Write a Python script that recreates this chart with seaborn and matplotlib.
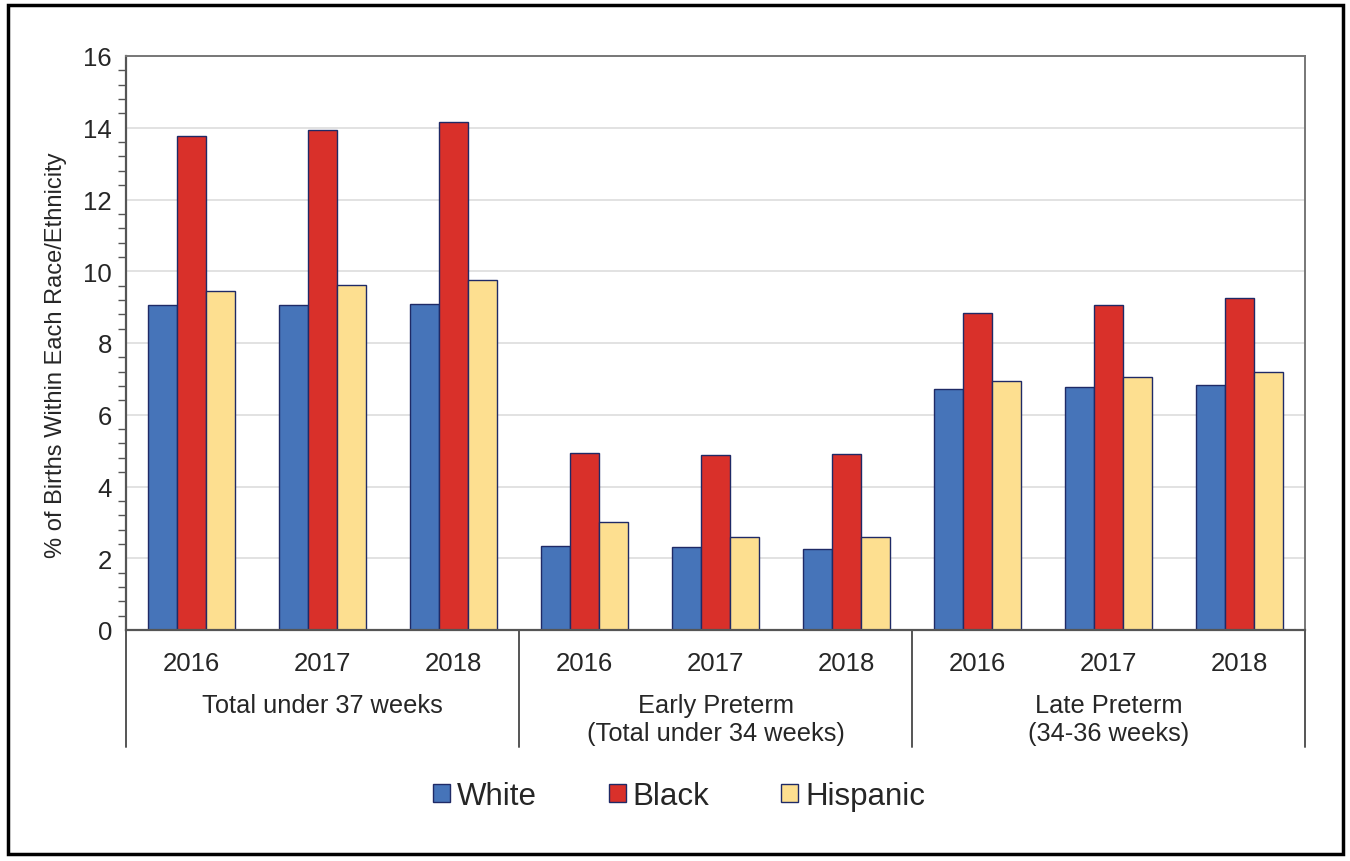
import pandas as pd
import matplotlib
matplotlib.use("Agg")
import matplotlib.pyplot as plt
import matplotlib.patches as mpatches
from matplotlib.ticker import MultipleLocator
import seaborn as sns

# data
groups = ["Total under 37 weeks",
          "Early Preterm\n(Total under 34 weeks)",
          "Late Preterm\n(34-36 weeks)"]
years = ["2016", "2017", "2018"]
races = ["White", "Black", "Hispanic"]

white = [9.05, 9.05, 9.10, 2.35, 2.30, 2.27, 6.72, 6.77, 6.83]
black = [13.78, 13.93, 14.15, 4.93, 4.88, 4.90, 8.85, 9.07, 9.25]
hispanic = [9.45, 9.63, 9.75, 3.00, 2.58, 2.58, 6.93, 7.05, 7.18]

colors = ["#4674B9", "#D9302A", "#FDDF90"]
edge = "#1F2A66"

slots = [g.split("\n")[0] + " " + y for g in groups for y in years]
rows = []
for i, s in enumerate(slots):
    rows.append([s, "White", white[i]])
    rows.append([s, "Black", black[i]])
    rows.append([s, "Hispanic", hispanic[i]])
df = pd.DataFrame(rows, columns=["slot", "race", "pct"])

sns.set_style("white")
plt.rcParams["font.family"] = ["Liberation Sans", "DejaVu Sans"]

fig = plt.figure(figsize=(13.5, 8.62), dpi=100)
ax = fig.add_axes([126 / 1350, 1 - 631 / 862, 1179 / 1350, 574 / 862])

sns.barplot(data=df, x="slot", y="pct", hue="race", order=slots,
            hue_order=races, palette=colors, width=0.664,
            edgecolor=edge, linewidth=1.0, saturation=1,
            legend=False, ax=ax)

ax.set_ylim(0, 16)
ax.set_xlim(-0.5, 8.5)
ax.yaxis.set_major_locator(MultipleLocator(2))
ax.yaxis.set_minor_locator(MultipleLocator(0.4))
ax.grid(axis="y", which="major", color="#DDDDDD", linewidth=1.2)
ax.set_axisbelow(True)
ax.tick_params(axis="y", which="major", direction="inout", length=14,
               width=1.2, color="#555555", labelsize=18.5, pad=3)
ax.tick_params(axis="y", which="minor", direction="out", length=6,
               width=1.0, color="#555555", left=True)
ax.tick_params(axis="x", length=0, labelsize=18.5, pad=15)
ax.set_xticks(range(9))
ax.set_xticklabels(years * 3)
ax.set_xlabel("")
ax.set_ylabel("% of Births Within Each Race/Ethnicity", fontsize=17)
ax.yaxis.set_label_coords(-0.050, 0.481)

for side in ["left", "bottom"]:
    ax.spines[side].set_color("#555555")
    ax.spines[side].set_linewidth(1.6)
for side in ["top", "right"]:
    ax.spines[side].set_visible(True)
    ax.spines[side].set_color("#777777")
    ax.spines[side].set_linewidth(1.4)

# group separators and group labels below the axis
trans = ax.get_xaxis_transform()
for xb in [-0.5, 2.5, 5.5, 8.5]:
    ax.plot([xb, xb], [0, -0.204], transform=trans, color="#555555",
            linewidth=1.4, clip_on=False)
for k, g in enumerate(groups):
    ax.text(3 * k + 1, -0.110, g, transform=trans, ha="center", va="top",
            fontsize=18.3, linespacing=1.2)

handles = [mpatches.Patch(facecolor=c, edgecolor=edge, linewidth=1.0, label=r)
           for c, r in zip(colors, races)]
fig.legend(handles=handles, loc="center", bbox_to_anchor=(679 / 1350, 1 - 797 / 862),
           ncol=3, frameon=False, fontsize=22.5, handlelength=0.55,
           handleheight=0.55, handletextpad=0.22, columnspacing=2.3)

# outer frame
fig.patches.append(mpatches.Rectangle((7.5 / 1350, 1 - 855 / 862), 1335 / 1350, 849 / 862,
                                      transform=fig.transFigure, fill=False,
                                      edgecolor="black", linewidth=2.5))

fig.savefig("out.png", dpi=100)
